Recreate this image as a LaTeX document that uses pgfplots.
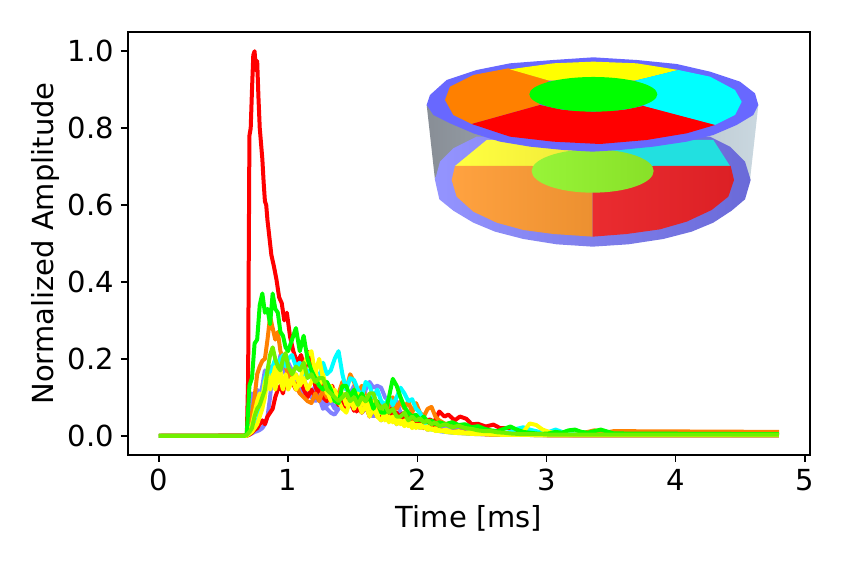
\documentclass[border=0pt]{standalone}
\usepackage{fontspec}
\setmainfont{DejaVu Sans}
\usepackage{pgfplots}
\usepackage{pgfplotstable}
\pgfplotsset{compat=1.18}

\definecolor{cblue}{HTML}{8080FF}
\definecolor{cred}{HTML}{FF0000}
\definecolor{corange}{HTML}{FF8000}
\definecolor{ccyan}{HTML}{00FFFF}
\definecolor{cyellow}{HTML}{FFFF00}
\definecolor{cgreen}{HTML}{00FF00}
\definecolor{clime}{HTML}{70F000}

% columns: time [ms], then one amplitude per sensor
\pgfplotstableread{
x    blA   blB   rB    or    cy    yA    yB    gr    li
0.00 0     0     0     0     0     0     0     0     0
0.66 0     0     0     0     0     0     0     0     0
0.68 .002  0     0     .002  .002  0     .002  .005  .002
0.70 .06   .003  .003  .02   .02   .005  .01   .13   .01
0.72 .11   .006  .008  .06   .03   .01   .03   .15   .02
0.74 .10   .01   .015  .10   .02   .02   .06   .24   .05
0.76 .12   .012  .02   .16   .035  .03   .09   .25   .07
0.78 .10   .015  .03   .18   .06   .05   .11   .34   .08
0.80 .13   .02   .04   .195  .10   .07   .10   .37   .10
0.82 .17   .03   .03   .20   .15   .10   .14   .32   .12
0.84 .15   .05   .05   .25   .17   .15   .16   .33   .17
0.86 .18   .10   .06   .31   .14   .13   .12   .29   .21
0.88 .16   .17   .07   .28   .18   .16   .15   .37   .23
0.90 .19   .19   .10   .25   .20   .12   .18   .33   .20
0.92 .17   .15   .12   .27   .18   .15   .14   .32   .18
0.94 .21   .18   .13   .22   .20   .145  .17   .27   .17
0.96 .18   .20   .11   .20   .21   .12   .13   .26   .20
0.98 .16   .17   .15   .18   .18   .16   .15   .23   .215
1.00 .19   .15   .17   .16   .20   .13   .12   .22   .18
1.03 .17   .14   .14   .145  .21   .15   .14   .25   .16
1.06 .15   .16   .12   .13   .18   .12   .16   .28   .18
1.09 .13   .13   .15   .11   .19   .14   .13   .22   .17
1.12 .15   .11   .12   .10   .16   .18   .15   .26   .19
1.15 .12   .12   .10   .09   .17   .21   .12   .20   .15
1.18 .11   .10   .12   .085  .15   .22   .14   .17   .16
1.21 .13   .09   .10   .11   .17   .16   .17   .15   .14
1.24 .09   .10   .13   .09   .15   .20   .13   .13   .15
1.27 .10   .07   .10   .12   .19   .15   .16   .12   .15
1.30 .07   .08   .09   .10   .16   .11   .12   .14   .12
1.33 .06   .09   .12   .12   .17   .13   .09   .12   .11
1.36 .055  .07   .10   .09   .20   .10   .12   .09   .10
1.39 .07   .09   .08   .11   .22   .09   .09   .085  .09
1.42 .10   .07   .09   .14   .16   .07   .11   .13   .10
1.45 .08   .10   .07   .12   .12   .06   .08   .13   .11
1.48 .11   .08   .09   .16   .15   .09   .10   .10   .09
1.51 .13   .07   .065  .14   .145  .08   .07   .12   .10
1.54 .10   .09   .08   .11   .12   .11   .09   .09   .08
1.57 .08   .06   .06   .13   .10   .08   .06   .11   .10
1.60 .12   .07   .08   .10   .14   .10   .08   .09   .09
1.63 .14   .06   .05   .08   .13   .07   .05   .10   .11
1.66 .125  .05   .07   .10   .10   .09   .07   .07   .11
1.69 .13   .06   .05   .07   .12   .05   .05   .09   .08
1.72 .125  .04   .06   .09   .09   .07   .04   .06   .07
1.75 .10   .05   .05   .06   .08   .04   .06   .06   .08
1.78 .09   .04   .07   .08   .10   .05   .035  .10   .06
1.81 .07   .05   .05   .10   .08   .035  .05   .148  .07
1.84 .09   .03   .06   .07   .10   .05   .03   .13   .05
1.87 .06   .04   .04   .09   .125  .03   .04   .10   .05
1.90 .05   .03   .05   .07   .11   .04   .025  .075  .06
1.93 .04   .035  .03   .09   .09   .025  .035  .06   .04
1.96 .05   .025  .04   .06   .095  .035  .02   .05   .05
1.99 .035  .03   .03   .085  .07   .02   .03   .055  .04
2.02 .03   .02   .035  .06   .06   .03   .02   .04   .045
2.05 .045  .025  .02   .05   .04   .02   .025  .05   .035
2.08 .04   .015  .03   .07   .02   .025  .015  .035  .04
2.11 .03   .02   .02   .075  .016  .015  .02   .04   .03
2.14 .02   .015  .025  .05   .015  .02   .012  .03   .035
2.17 .025  .012  .015  .04   .013  .012  .015  .035  .025
2.22 .02   .01   .012  .03   .011  .016  .01   .03   .03
2.27 .015  .008  .01   .035  .009  .01   .008  .035  .022
2.32 .018  .007  .012  .025  .008  .012  .007  .028  .026
2.37 .012  .006  .008  .02   .007  .008  .006  .03   .02
2.42 .01   .005  .006  .022  .006  .01   .005  .022  .018
2.47 .012  .004  .005  .015  .005  .006  .004  .025  .014
2.52 .008  .004  .004  .012  .006  .005  .004  .018  .012
2.57 .006  .003  .003  .01   .005  .004  .003  .014  .012
2.62 .005  .003  .003  .008  .004  .004  .003  .012  .009
2.67 .004  .002  .002  .006  .006  .003  .002  .018  .008
2.72 .004  .002  .002  .005  .01   .003  .002  .024  .006
2.77 .003  .002  .002  .004  .018  .004  .002  .016  .005
2.82 .003  .002  .002  .004  .022  .01   .002  .01   .004
2.87 .003  .002  .002  .003  .016  .032  .002  .008  .004
2.92 .002  .001  .002  .003  .012  .028  .001  .006  .004
2.97 .002  .001  .002  .003  .008  .016  .001  .005  .004
3.02 .002  .001  .001  .003  .01   .01   .001  .006  .003
3.07 .002  .001  .001  .003  .016  .006  .001  .01   .003
3.12 .002  .001  .001  .004  .01   .004  .001  .008  .003
3.17 .002  .001  .001  .004  .006  .003  .001  .014  .003
3.22 .001  .001  .001  .006  .004  .003  .001  .016  .003
3.27 .001  .001  .001  .006  .003  .002  .001  .01   .003
3.32 .001  .001  .001  .01   .002  .002  .001  .008  .003
3.37 .001  .001  .001  .014  .002  .002  .001  .012  .003
3.42 .001  .001  .001  .012  .002  .002  .001  .016  .003
3.47 .001  .001  .001  .009  .002  .002  .001  .011  .003
3.52 .001  .001  .001  .012  .002  .002  .001  .006  .003
4.80 .001  .001  .001  .010  .002  .002  .001  .004  .003
}\sensors

\begin{document}
\begin{tikzpicture}
\useasboundingbox (-64pt,-55pt) rectangle (359.5pt,227.5pt);
\begin{axis}[
  scale only axis,
  width=341pt, height=211.5pt,
  xmin=-0.24, xmax=5.04,
  ymin=-0.05, ymax=1.05,
  xtick={0,1,2,3,4,5},
  ytick={0,0.2,0.4,0.6,0.8,1.0},
  tick pos=left,
  tick align=outside,
  major tick length=3.5pt,
  every tick/.style={black,line width=0.8pt},
  axis line style={line width=0.8pt},
  /pgf/number format/assume math mode=true,
  yticklabel style={/pgf/number format/fixed,/pgf/number format/fixed zerofill,/pgf/number format/precision=1},
  tick label style={font=\fontsize{14.5}{17}\selectfont},
  label style={font=\fontsize{14.5}{17}\selectfont},
  xlabel={Time [ms]},
  ylabel={Normalized Amplitude},
  ylabel style={yshift=-2.5pt},
  xlabel style={yshift=-0.5pt},
  every axis plot/.append style={line width=2pt,line join=round,no marks},
]
\addplot[cblue] table[x=x,y=blA] {\sensors};
\addplot[cblue] table[x=x,y=blB] {\sensors};
\addplot[cred] coordinates {
 (0,0) (0.68,0.001) (0.69,0.15) (0.70,0.78) (0.71,0.80) (0.72,0.90) (0.73,0.99)
 (0.74,1.0) (0.75,0.95) (0.76,0.975) (0.77,0.88) (0.78,0.80) (0.79,0.76)
 (0.80,0.72) (0.81,0.66) (0.82,0.61) (0.83,0.60) (0.84,0.56) (0.85,0.53) (0.87,0.47)
 (0.89,0.44) (0.91,0.405) (0.93,0.36) (0.95,0.345) (0.97,0.30) (0.99,0.32)
 (1.015,0.257) (1.04,0.22) (1.07,0.19) (1.10,0.21) (1.13,0.17) (1.155,0.218) (1.19,0.15)
 (1.22,0.12) (1.26,0.14) (1.30,0.11) (1.34,0.13) (1.38,0.09) (1.42,0.11)
 (1.46,0.08) (1.50,0.10) (1.53,0.063) (1.57,0.09) (1.62,0.07) (1.67,0.08) (1.71,0.055)
 (1.75,0.05) (1.80,0.07) (1.85,0.05) (1.90,0.06) (1.95,0.035) (2.00,0.05) (2.05,0.04)
 (2.10,0.042) (2.13,0.035) (2.17,0.063) (2.21,0.05) (2.24,0.055) (2.29,0.04)
 (2.33,0.05) (2.38,0.044) (2.42,0.03) (2.47,0.031) (2.53,0.024) (2.59,0.029) (2.64,0.02)
 (2.70,0.02) (2.80,0.012) (2.90,0.008) (3.10,0.005) (3.50,0.004) (4.80,0.007)};
\addplot[cred] table[x=x,y=rB] {\sensors};
\addplot[corange] table[x=x,y=or] {\sensors};
\addplot[ccyan] table[x=x,y=cy] {\sensors};
\addplot[cyellow] table[x=x,y=yA] {\sensors};
\addplot[cyellow] table[x=x,y=yB] {\sensors};
\addplot[cgreen] table[x=x,y=gr] {\sensors};
\addplot[clime] table[x=x,y=li] {\sensors};
\end{axis}

% cylinder inset, coordinates in units of a third of a reference pixel
\begin{scope}[shift={(146pt,207.5pt)},x=0.16667pt,y=-0.16667pt]
\definecolor{wallL}{HTML}{888E96}\definecolor{wallR}{HTML}{CAD8E0}
\definecolor{ringL}{HTML}{9494FF}\definecolor{ringR}{HTML}{6A6AD8}
\definecolor{yelL}{HTML}{FFFF40}\definecolor{yelR}{HTML}{F0E838}
\definecolor{oraL}{HTML}{FFA240}\definecolor{oraR}{HTML}{EC9030}
\definecolor{redL}{HTML}{EA2C30}\definecolor{redR}{HTML}{DC2025}
\definecolor{cenL}{HTML}{98F438}\definecolor{cenR}{HTML}{88E028}
\shade[left color=wallL,right color=wallR]
  (20,195)--(45,420)--(990,420)--(1015,195)--cycle;
\shade[left color=ringL,right color=ringR]
  (45,420)--(58,478)--(100,512)--(160,548)--(225,575)--(310,597)--(410,613)--(518,620)
  --(625,613)--(730,597)--(815,575)--(880,548)--(935,512)--(975,478)--(992,420)
  --(975,365)--(930,320)--(870,290)--(170,290)--(100,325)--(60,365)--cycle;
\shade[left color=yelL,right color=yelR]
  (105,378)--(200,300)--(520,300)--(520,378)--cycle;
\fill[fill={rgb,255:red,34;green,224;blue,224}] (520,378)--(520,300)--(880,300)--(930,378)--cycle;
\shade[left color=oraL,right color=oraR]
  (105,378)--(95,420)--(110,470)--(160,515)--(230,548)--(310,570)--(400,582)--(518,590)
  --(518,420)--(336,378)--cycle;
\shade[left color=redL,right color=redR]
  (518,590)--(620,582)--(720,568)--(800,545)--(875,510)--(925,470)--(942,420)--(932,378)
  --(700,378)--(518,420)--cycle;
\shade[left color=cenL,right color=cenR]
  (518,393) ellipse [x radius=183,y radius=65];
\fill[fill={rgb,255:red,104;green,104;blue,255}]
  (20,195)--(30,165)--(80,120)--(170,90)--(270,70)--(400,60)--(520,52)--(650,60)--(770,72)
  --(870,95)--(960,125)--(1005,160)--(1015,195)--(1000,225)--(950,255)--(880,285)--(800,305)
  --(700,320)--(600,330)--(518,335)--(430,330)--(330,320)--(240,305)--(160,280)--(90,250)
  --(40,225)--cycle;
\fill[corange] (75,180)--(90,140)--(160,105)--(265,85)--(388,122)--(330,160)--(360,195)
  --(155,252)--(100,225)--cycle;
\fill[cyellow] (270,88)--(400,70)--(520,65)--(650,70)--(775,90)--(645,122)--(388,122)--cycle;
\fill[ccyan] (775,90)--(870,110)--(945,150)--(965,185)--(945,225)--(885,255)--(670,198)
  --(712,160)--(645,122)--cycle;
\fill[cred] (155,252)--(360,195)--(430,210)--(520,215)--(610,210)--(670,198)--(885,255)
  --(800,280)--(680,300)--(540,312)--(400,305)--(270,290)--cycle;
\fill[cgreen] (520,163) ellipse [x radius=192,y radius=52];
\end{scope}
\end{tikzpicture}
\end{document}
